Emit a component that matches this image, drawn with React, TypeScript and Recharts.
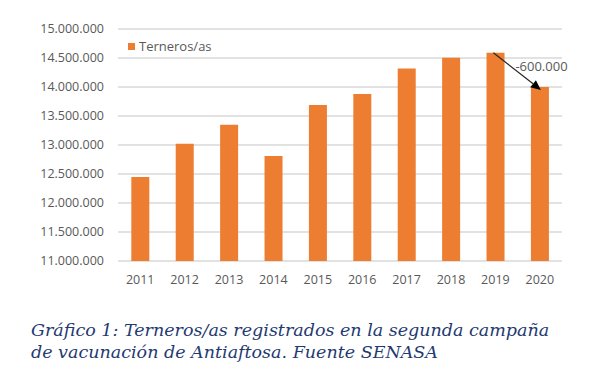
import { BarChart, Bar, XAxis, YAxis, CartesianGrid, ReferenceLine } from "recharts"

const years = ["2011", "2012", "2013", "2014", "2015", "2016", "2017", "2018", "2019", "2020"]
const terneros = [12450000, 13020000, 13350000, 12810000, 13690000, 13880000, 14320000, 14505000, 14590000, 14000000]
const yTicks = [11000000, 11500000, 12000000, 12500000, 13000000, 13500000, 14000000, 14500000, 15000000]
const seriesName = "Terneros/as"
const dropLabel = "-600.000"
const captionLines = [
  "Gráfico 1: Terneros/as registrados en la segunda campaña",
  "de vacunación de Antiaftosa. Fuente SENASA",
]

const data = years.map((y, i) => ({ year: y, total: terneros[i] }))

const fmt = (v: number) => String(v).replace(/\B(?=(\d{3})+(?!\d))/g, ".")

const axisFont = { fill: "#595959", fontSize: 12.5, fontFamily: "'Open Sans', sans-serif" }

function DropArrow(props: any) {
  const { x1, y1, x2, y2 } = props
  if (x1 == null) return null
  const tx = x2 + 1
  const ty = y2 + 3
  const ang = Math.atan2(ty - y1, tx - x1)
  const len = 10
  const w = 4.5
  const bx = tx - len * Math.cos(ang)
  const by = ty - len * Math.sin(ang)
  const px = -Math.sin(ang) * w
  const py = Math.cos(ang) * w
  return (
    <g>
      <line x1={x1 - 2} y1={y1} x2={bx} y2={by} stroke="#262626" strokeWidth={1.2} />
      <polygon points={`${tx},${ty} ${bx + px},${by + py} ${bx - px},${by - py}`} fill="#000" />
      <text x={x1 + 20} y={y1 + 18} fill="#595959" fontSize={13} fontFamily="'Open Sans', sans-serif">
        {dropLabel}
      </text>
    </g>
  )
}

export default function App() {
  return (
    <div style={{ position: "absolute", left: 0, top: 0, width: 599, height: 377, background: "#fff" }}>
      <BarChart width={599} height={300} data={data} margin={{ top: 29, right: 37, left: 0, bottom: 9 }} barCategoryGap="30%">
        <CartesianGrid vertical={false} stroke="#d9d9d9" strokeWidth={1.5} />
        <XAxis dataKey="year" axisLine={false} tickLine={false} tick={axisFont} height={30} tickMargin={8} interval={0} />
        <YAxis
          domain={[11000000, 15000000]}
          ticks={yTicks}
          tickFormatter={fmt}
          axisLine={false}
          tickLine={false}
          tick={axisFont}
          width={118}
          tickMargin={8}
          interval={0}
        />
        <Bar dataKey="total" name={seriesName} fill="#ED7D31" isAnimationActive={false} />
        <ReferenceLine
          segment={[{ x: "2019", y: terneros[8] }, { x: "2020", y: terneros[9] }]}
          shape={<DropArrow />}
          ifOverflow="visible"
        />
      </BarChart>
      <div
        style={{
          position: "absolute",
          left: 128,
          top: 37,
          display: "flex",
          alignItems: "center",
          fontFamily: "'Open Sans', sans-serif",
          fontSize: 13,
          color: "#595959",
        }}
      >
        <span style={{ width: 7, height: 7, background: "#ED7D31", marginRight: 4, display: "inline-block" }} />
        {seriesName}
      </div>
      <div
        style={{
          position: "absolute",
          left: 31,
          top: 319,
          fontFamily: "'DejaVu Serif', serif",
          fontStyle: "italic",
          fontSize: 17.5,
          lineHeight: "22px",
          color: "#1f3a70",
          whiteSpace: "nowrap",
        }}
      >
        {captionLines.map((l) => (
          <div key={l}>{l}</div>
        ))}
      </div>
    </div>
  )
}
